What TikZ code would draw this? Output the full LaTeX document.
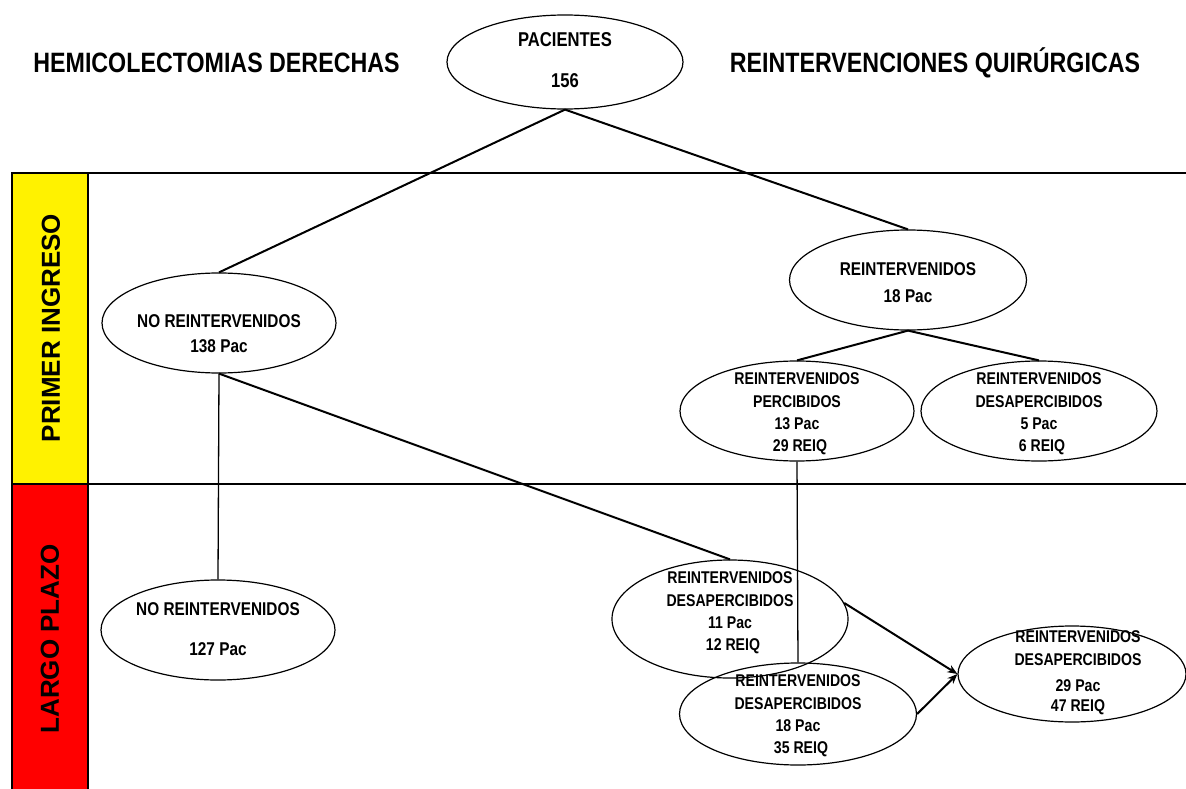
\documentclass[tikz,border=0pt]{standalone}
\usepackage{fontspec}
\setmainfont{Liberation Sans}
\newfontfamily\narrowfont[FakeStretch=0.83]{Liberation Sans}
\usetikzlibrary{shapes.geometric,arrows.meta}

\tikzset{
  oval/.style={draw, ellipse, line width=1.2pt, inner sep=0pt},
  ovaltext/.style={align=center, inner sep=0pt, font=\narrowfont\bfseries\fontsize{18.5}{22.5}\selectfont},
  smallovaltext/.style={align=center, inner sep=0pt, font=\narrowfont\bfseries\fontsize{17}{22.3}\selectfont},
  bigovaltext/.style={align=center, inner sep=0pt, font=\narrowfont\bfseries\fontsize{20}{24}\selectfont},
  heading/.style={inner sep=0pt, font=\narrowfont\bfseries\fontsize{28}{32}\selectfont},
  lanelabel/.style={rotate=90, inner sep=0pt, font=\bfseries\fontsize{26}{30}\selectfont},
  link/.style={line width=2pt},
  thinlink/.style={line width=1.3pt},
  flow/.style={line width=2pt, -{Stealth[length=10pt,width=8pt]}},
  rule/.style={line width=1.5pt}
}

\begin{document}
\begin{tikzpicture}[x=1pt, y=-1pt]
\useasboundingbox (0,0) rectangle (1186,789);

% swim lanes
\fill[yellow] (12,173) rectangle (88,484);
\fill[red] (12,484) rectangle (88,795);
\draw[rule] (12,795) -- (12,173) -- (1190,173);
\draw[rule] (12,484) -- (1190,484);
\draw[rule] (88,173) -- (88,795);
\node[lanelabel] (lane1) at (51,328) {PRIMER INGRESO};
\node[lanelabel] (lane2) at (50,639) {LARGO PLAZO};

% headings
\node[heading] (h1) at (216.5,63) {HEMICOLECTOMIAS DERECHAS};
\node[heading] (h2) at (935,63) {REINTERVENCIONES QUIRÚRGICAS};

% ellipses
\node[oval, minimum width=236pt, minimum height=94pt] (pac) at (565,62) {};
\node[bigovaltext] (pac-t) at (565,60) {PACIENTES\\[17pt]156};

\node[oval, minimum width=234pt, minimum height=100pt] (no1) at (219,323) {};
\node[ovaltext] (no1-t) at (219,334) {NO REINTERVENIDOS\\[2.5pt]138 Pac};

\node[oval, minimum width=237pt, minimum height=100pt] (re) at (908,280) {};
\node[ovaltext] (re-t) at (908,283) {REINTERVENIDOS\\[4.5pt]18 Pac};

\node[oval, minimum width=234pt, minimum height=100pt] (perc) at (797,411) {};
\node[smallovaltext] (perc-t) at (797,414) {REINTERVENIDOS\\PERCIBIDOS\\13 Pac\\\hspace*{6pt}29 REIQ};

\node[oval, minimum width=236pt, minimum height=100pt] (desp) at (1039,411) {};
\node[smallovaltext] (desp-t) at (1039,414) {REINTERVENIDOS\\DESAPERCIBIDOS\\5 Pac\\\hspace*{6pt}6 REIQ};

\node[oval, minimum width=234pt, minimum height=100pt] (no2) at (218,630) {};
\node[ovaltext] (no2-t) at (218,629) {NO REINTERVENIDOS\\[17.5pt]127 Pac};

\node[oval, minimum width=236pt, minimum height=118pt] (d11) at (730,619) {};
\node[smallovaltext] (d11-t) at (730,613) {REINTERVENIDOS\\DESAPERCIBIDOS\\11 Pac\\\hspace*{6pt}12 REIQ};

\node[oval, minimum width=237pt, minimum height=102pt] (d18) at (798,714) {};
\node[smallovaltext] (d18-t) at (798,716) {REINTERVENIDOS\\DESAPERCIBIDOS\\18 Pac\\\hspace*{6pt}35 REIQ};

\node[oval, minimum width=228pt, minimum height=96pt] (fin) at (1072,674) {};
\node[smallovaltext] (fin-t) at (1078,673) {REINTERVENIDOS\\DESAPERCIBIDOS\\[4pt]29 Pac\\[-2pt]47 REIQ};

% connectors
\draw[link] (pac.south) -- (no1.north);
\draw[link] (pac.south) -- (re.north);
\draw[link] (re.south) -- (perc.north);
\draw[link] (re.south) -- (desp.north);
\draw[link] (no1.south) -- (d11.north);
\draw[thinlink] (no1.south) -- (no2.north);
\draw[thinlink] (perc.south) -- (d18.north);
\draw[flow] (d11.8) -- (fin.west);
\draw[flow] (d18.east) -- (fin.west);
\end{tikzpicture}
\end{document}
